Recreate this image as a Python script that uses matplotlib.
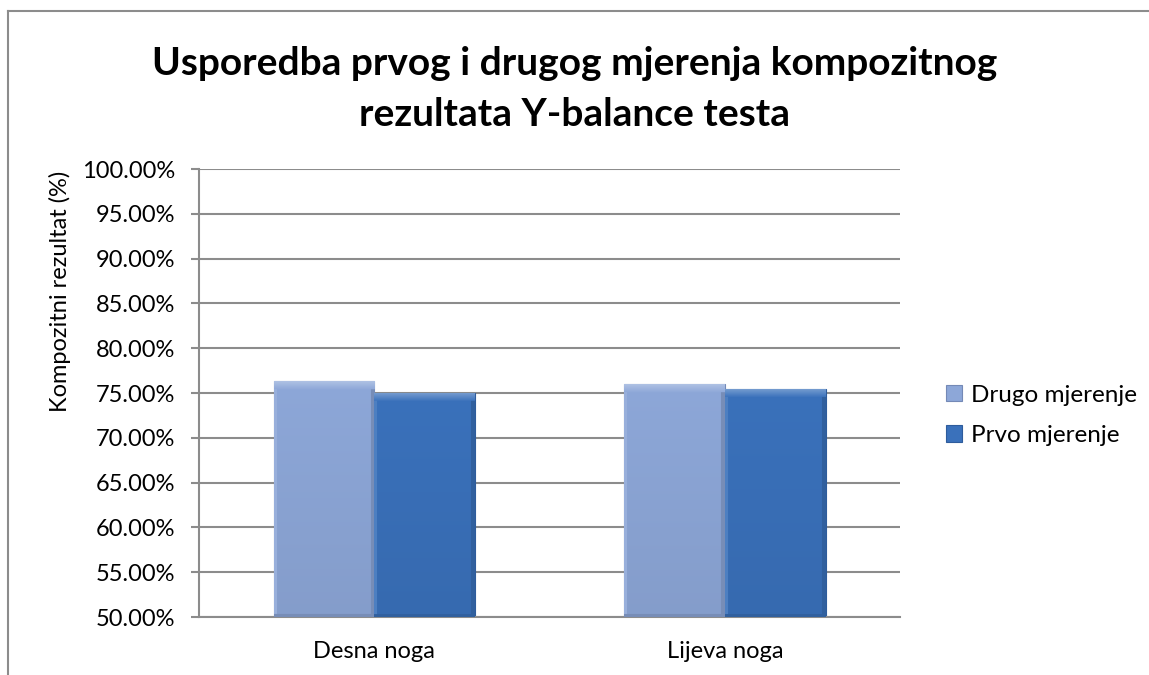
#!/usr/bin/env python3
"""Grouped bar chart: first vs second Y-balance composite score."""

import numpy as np
import matplotlib
matplotlib.use("Agg")
import matplotlib.pyplot as plt
from matplotlib.colors import to_rgb
from matplotlib.lines import Line2D
from matplotlib.ticker import MultipleLocator, FuncFormatter

plt.rcParams["font.family"] = ["Lato", "DejaVu Sans"]

categories = ["Desna noga", "Lijeva noga"]
series_names = ["Drugo mjerenje", "Prvo mjerenje"]
drugo = [76.35, 76.05]
prvo = [75.05, 75.45]

TITLE = "Usporedba prvog i drugog mjerenja kompozitnog\nrezultata Y-balance testa"
YLABEL = "Kompozitni rezultat (%)"

Y_MIN, Y_MAX = 50, 100
COLORS = ["#8DA7D8", "#3A71BB"]
EDGES = ["#7489B6", "#2E5C9C"]
GRID = "#8C8C8C"


def shade(color, f):
    c = np.array(to_rgb(color))
    if f >= 0:
        return c + (1 - c) * f
    return c * (1 + f)


def bevel_fill(ax, bar, color):
    """Overlay a soft beveled gradient on a bar, clipped to the bar."""
    x0, y0 = bar.get_x(), bar.get_y()
    w, h = bar.get_width(), bar.get_height()
    ny, nx = 230, 100
    base = shade(color, 0.0)
    light = shade(color, 0.32)
    dark = shade(color, -0.15)
    img = np.tile(base, (ny, nx, 1))
    ys = np.linspace(0, 1, ny)
    # gentle vertical darkening towards the bottom
    for i, t in enumerate(ys):
        img[i] = img[i] * (1 - 0.06 * t)
    # side bevels
    img[:, :3] = shade(color, 0.10)
    img[:, -4:] = dark
    # top bevel (image row 0 is the top of the bar)
    for i in range(9):
        img[i, :] = light * (1 - i / 9) + base * (i / 9)
    img[-3:] = dark
    im = ax.imshow(img, extent=(x0, x0 + w, y0, y0 + h), origin="upper",
                   aspect="auto", zorder=3, interpolation="bilinear")
    im.set_clip_path(bar)


fig = plt.figure(figsize=(11.49, 6.75), dpi=100)
ax = fig.add_axes([0.1732, 0.0859, 0.6105, 0.6637])

x = np.arange(len(categories))
width = 0.287
h_a = np.array(drugo) - Y_MIN
h_b = np.array(prvo) - Y_MIN
bars_a = ax.bar(x - width / 2, h_a, width, bottom=Y_MIN, color=COLORS[0],
                edgecolor=EDGES[0], linewidth=0.8, label=series_names[0], zorder=2)
bars_b = ax.bar(x + width / 2, h_b, width, bottom=Y_MIN, color=COLORS[1],
                edgecolor=EDGES[1], linewidth=0.8, label=series_names[1], zorder=2)
for b in bars_a:
    bevel_fill(ax, b, COLORS[0])
for b in bars_b:
    bevel_fill(ax, b, COLORS[1])

ax.set_xlim(-0.5, 1.5)
ax.set_ylim(Y_MIN, Y_MAX)
ax.yaxis.set_major_locator(MultipleLocator(5))
ax.yaxis.set_major_formatter(FuncFormatter(lambda v, _: f"{v:.2f}%"))
ax.set_xticks(x)
ax.set_xticklabels(categories, fontsize=17)
ax.tick_params(axis="x", length=0, pad=17)
ax.tick_params(axis="y", length=6, width=1.5, color=GRID, labelsize=17, pad=11)
ax.grid(axis="y", color=GRID, linewidth=1.5)
ax.set_axisbelow(True)
for side in ("top", "right"):
    ax.spines[side].set_visible(False)
for side in ("left", "bottom"):
    ax.spines[side].set_color(GRID)
    ax.spines[side].set_linewidth(1.5)

fig.text(60 / 1149, 1 - 291 / 675, YLABEL, rotation=90, ha="center",
         va="center", fontsize=17)
fig.text(0.5, 0.868, TITLE, ha="center", va="center", fontsize=28,
         fontweight="bold", linespacing=1.55)

ax.legend(loc="center left", bbox_to_anchor=(1.034, 0.45), frameon=False,
          fontsize=17.5, handlelength=0.65, handleheight=0.65,
          handletextpad=0.35, labelspacing=0.8)

# chart-area border (top and left visible)
fig.add_artist(Line2D([8 / 1149, 8 / 1149], [0, 1 - 11 / 675],
                      transform=fig.transFigure, color=GRID, linewidth=1.5))
fig.add_artist(Line2D([8 / 1149, 1], [1 - 11 / 675, 1 - 11 / 675],
                      transform=fig.transFigure, color=GRID, linewidth=1.5))

fig.savefig("out.png", dpi=100)
